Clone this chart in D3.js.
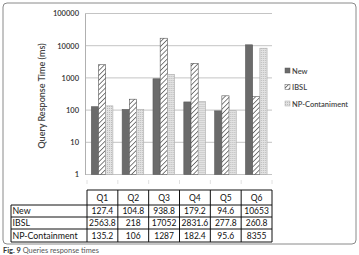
<!DOCTYPE html>
<html><head><meta charset="utf-8">
<script src="https://cdn.jsdelivr.net/npm/d3@7"></script>
<style>
html,body{margin:0;padding:0;background:#fff;}
svg{display:block;font-family:Lato,"Open Sans",sans-serif;}
</style></head>
<body>
<svg id="c" width="359" height="255"></svg>
<script>
const categories = ["Q1","Q2","Q3","Q4","Q5","Q6"];
const seriesNames = ["New","IBSL","NP-Containment"];
const legendLabels = ["New","IBSL","NP-Contaniment"];
const newVals = [127.4,104.8,938.8,179.2,94.6,10653];
const ibslVals = [2563.8,218,17052,2831.6,277.8,260.8];
const npVals = [135.2,106,1287,182.4,95.6,8355];
const tableText = [
  ["127.4","104.8","938.8","179.2","94.6","10653"],
  ["2563.8","218","17052","2831.6","277.8","260.8"],
  ["135.2","106","1287","182.4","95.6","8355"]
];
const yTicks = [1,10,100,1000,10000,100000];
const yLabel = "Query Response Time (ms)";

const allVals = [newVals, ibslVals, npVals];
const svg = d3.select("#c");
const defs = svg.append("defs");

const hatch = defs.append("pattern").attr("id","hatch").attr("patternUnits","userSpaceOnUse")
  .attr("width",3.4).attr("height",3.4).attr("patternTransform","rotate(45)");
hatch.append("rect").attr("width",3.4).attr("height",3.4).attr("fill","#fff");
hatch.append("line").attr("x1",0).attr("y1",0).attr("x2",0).attr("y2",3.4)
  .attr("stroke","#555").attr("stroke-width",1.5);
const dots = defs.append("pattern").attr("id","dots").attr("patternUnits","userSpaceOnUse")
  .attr("width",2).attr("height",2);
dots.append("rect").attr("width",2).attr("height",2).attr("fill","#e2e2e2");
dots.append("rect").attr("width",1).attr("height",1).attr("fill","#bdbdbd");

const fills = ["#6b6b6b","url(#hatch)","url(#dots)"];
const strokes = ["#5a5a5a","#555","#aaa"];

svg.append("rect").attr("x",3).attr("y",3).attr("width",353).attr("height",241)
  .attr("rx",4).attr("fill","none").attr("stroke","#8a8a8a").attr("stroke-width",1);

const x0 = d3.scaleBand().domain(categories).range([87,272]).padding(0);
const x1 = d3.scaleBand().domain(seriesNames)
  .range([x0.bandwidth()*0.14, x0.bandwidth()*0.84]).padding(0);
const y = d3.scaleLog().domain([1,100000]).range([174.5,13.5]);

svg.append("g").selectAll("line").data(yTicks).join("line")
  .attr("x1",85).attr("x2",272).attr("y1",d=>y(d)).attr("y2",d=>y(d))
  .attr("stroke","#c4c4c4").attr("stroke-width",1);

const yAxis = d3.axisLeft(y).tickValues(yTicks).tickFormat(d3.format("d")).tickSize(0).tickPadding(6);
const ya = svg.append("g").attr("transform","translate(85,0)").call(yAxis);
ya.select(".domain").attr("stroke","#b0b0b0");
ya.selectAll("text").attr("font-size",7.5).attr("fill","#333").attr("font-family","Lato,sans-serif").attr("font-weight",600);

svg.append("g").selectAll("line").data(categories.concat(["end"])).join("line")
  .attr("x1",(d,i)=>87+i*x0.bandwidth()).attr("x2",(d,i)=>87+i*x0.bandwidth())
  .attr("y1",180).attr("y2",184).attr("stroke","#e0e0e0");

const groups = svg.append("g").selectAll("g").data(categories).join("g")
  .attr("transform",d=>`translate(${x0(d)},0)`);
groups.selectAll("rect").data((c,ci)=>seriesNames.map((s,si)=>({s,si,v:allVals[si][ci]})))
  .join("rect")
  .attr("x",d=>x1(d.s)).attr("width",x1.bandwidth())
  .attr("y",d=>y(d.v)).attr("height",d=>y(1)-y(d.v))
  .attr("fill",d=>fills[d.si]).attr("stroke",d=>strokes[d.si]).attr("stroke-width",0.6);

svg.append("text").attr("transform","translate(45,96) rotate(-90)")
  .attr("text-anchor","middle").attr("font-size",9).attr("fill","#444").attr("font-weight",600)
  .text(yLabel);

const lg = svg.append("g").selectAll("g").data(legendLabels).join("g")
  .attr("transform",(d,i)=>`translate(285,${71+i*16.5})`);
lg.append("rect").attr("x",0).attr("y",-3).attr("width",5).attr("height",5)
  .attr("fill",(d,i)=>fills[i]).attr("stroke",(d,i)=>strokes[i]).attr("stroke-width",0.5);
lg.append("text").attr("x",7).attr("y",2.5).attr("font-size",7.5).attr("fill","#444").attr("font-weight",600)
  .text(d=>d);

const rowY = [190,205,217,229,242];
const tbl = svg.append("g");
const tx0 = 11, tx1 = 87, tx2 = 272;
tbl.append("line").attr("x1",tx1).attr("x2",tx2).attr("y1",rowY[0]).attr("y2",rowY[0]).attr("stroke","#111");
for (let r=1;r<rowY.length;r++){
  tbl.append("line").attr("x1",tx0).attr("x2",tx2).attr("y1",rowY[r]).attr("y2",rowY[r]).attr("stroke","#111");
}
tbl.append("line").attr("x1",tx0).attr("x2",tx0).attr("y1",rowY[1]).attr("y2",rowY[4]).attr("stroke","#111");
categories.forEach((c,i)=>{
  tbl.append("line").attr("x1",x0(c)).attr("x2",x0(c)).attr("y1",rowY[0]).attr("y2",rowY[4]).attr("stroke","#111");
});
tbl.append("line").attr("x1",tx2).attr("x2",tx2).attr("y1",rowY[0]).attr("y2",rowY[4]).attr("stroke","#111");
tbl.selectAll("text.h").data(categories).join("text").attr("class","h")
  .attr("x",d=>x0(d)+x0.bandwidth()/2).attr("y",(rowY[0]+rowY[1])/2+3)
  .attr("text-anchor","middle").attr("font-size",8.5).attr("fill","#111").text(d=>d);
seriesNames.forEach((s,si)=>{
  const yy = (rowY[si+1]+rowY[si+2])/2+3;
  tbl.append("text").attr("x",tx0+1.5).attr("y",yy).attr("font-size",8.8).attr("fill","#111").text(s);
  categories.forEach((c,ci)=>{
    tbl.append("text").attr("x",x0(c)+x0.bandwidth()/2).attr("y",yy).attr("text-anchor","middle")
      .attr("font-size",8.5).attr("fill","#111").text(tableText[si][ci]);
  });
});

const cap = svg.append("text").attr("x",3).attr("y",253).attr("font-size",7.4).attr("fill","#555");
cap.append("tspan").attr("font-weight",700).attr("fill","#333").text("Fig. 9");
cap.append("tspan").text("  Queries response times");
</script>
</body></html>
